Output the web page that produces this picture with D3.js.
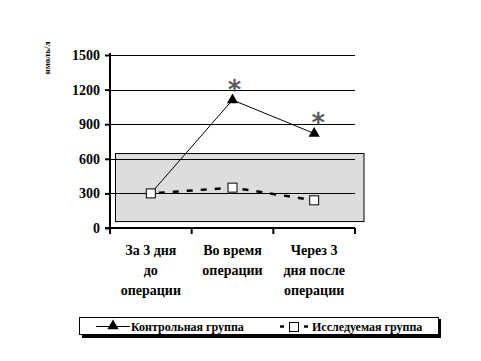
<!DOCTYPE html>
<html><head><meta charset="utf-8">
<script src="https://cdn.jsdelivr.net/npm/d3@7"></script>
<style>body{margin:0;background:#fff}svg{display:block}</style>
</head><body>
<script>
const categories = [["За 3 дня","до","операции"],["Во время","операции"],["Через 3","дня после","операции"]];
const control = [300, 1110, 820];
const study = [300, 350, 240];
const yTicks = [0, 300, 600, 900, 1200, 1500];
const normRange = [60, 650];
const seriesNames = ["Контрольная группа", "Исследуемая группа"];
const yLabel = "нмоль/л";
const signif = [false, true, true];

const FONT = "Liberation Serif, Times New Roman, serif";
const W = 481, H = 361;
const svg = d3.select("body").append("svg").attr("width", W).attr("height", H)
  .attr("font-family", FONT).attr("font-weight", "bold");

const x = d3.scaleBand().domain([0,1,2]).range([110, 355]);
const y = d3.scaleLinear().domain([0, 1500]).range([228, 55]);
const cx = i => x(i) + x.bandwidth()/2;

// normal range box
svg.append("rect").attr("x", 115.5).attr("y", y(normRange[1]) + 0.5)
  .attr("width", 364 - 115.5).attr("height", y(normRange[0]) - y(normRange[1]))
  .attr("fill", "#dddddd").attr("stroke", "#000").attr("stroke-width", 1);

// gridlines
svg.append("g").selectAll("line").data(yTicks.filter(d => d > 0)).join("line")
  .attr("x1", 110).attr("x2", 355).attr("y1", d => Math.round(y(d)) + 0.5).attr("y2", d => Math.round(y(d)) + 0.5)
  .attr("stroke", "#000").attr("stroke-width", 1);

// y axis
const ya = svg.append("g").attr("transform", "translate(110,0)")
  .call(d3.axisLeft(y).tickValues(yTicks).tickFormat(d3.format("d")).tickSize(5).tickPadding(5));
ya.attr("font-family", FONT).attr("font-size", 14).attr("font-weight", "bold");
ya.select(".domain").attr("stroke-width", 2).attr("d", `M0,${y(1500)-2}V${y(0)+3}`);
ya.selectAll(".tick line").attr("stroke-width", 2);
ya.selectAll("text").attr("fill", "#000");

// x axis
const xa = svg.append("g").attr("transform", `translate(0,${y(0)})`);
xa.append("line").attr("x1", 105).attr("x2", 355).attr("y1", 0).attr("y2", 0).attr("stroke", "#000").attr("stroke-width", 2);
xa.selectAll("line.t").data([110, ...[0,1,2].map(i => x(i) + x.bandwidth())]).join("line").attr("class","t")
  .attr("x1", d => d).attr("x2", d => d).attr("y1", 0).attr("y2", 6).attr("stroke", "#000").attr("stroke-width", 2);
categories.forEach((lines, i) => {
  const t = svg.append("text").attr("x", cx(i)).attr("text-anchor", "middle").attr("font-size", 14);
  lines.forEach((l, j) => t.append("tspan").attr("x", cx(i)).attr("y", 255 + j * 20).text(l));
});

// y label
svg.append("text").attr("transform", "translate(50,58) rotate(-90)").attr("text-anchor", "middle")
  .attr("font-size", 9).text(yLabel);

const line = d3.line().x((d, i) => cx(i)).y(d => y(d));

// study dashed line
svg.append("path").attr("d", line(study)).attr("fill", "none").attr("stroke", "#000")
  .attr("stroke-width", 2.5).attr("stroke-dasharray", "6,8").attr("stroke-dashoffset", -8);
// control line
svg.append("path").attr("d", line(control)).attr("fill", "none").attr("stroke", "#000").attr("stroke-width", 1);

const tri = d3.symbol().type(d3.symbolTriangle).size(55);
svg.append("g").selectAll("path").data(control.slice(1)).join("path")
  .attr("d", tri).attr("transform", (d, i) => `translate(${cx(i+1)},${y(d)})`).attr("fill", "#000");

svg.append("g").selectAll("rect").data(study).join("rect")
  .attr("x", (d, i) => cx(i) - 4.5).attr("y", d => y(d) - 4.5).attr("width", 9).attr("height", 9)
  .attr("fill", "#fff").attr("stroke", "#000").attr("stroke-width", 1);

// asterisks
svg.append("g").selectAll("text").data(control.map((d, i) => ({d, i})).filter(o => signif[o.i])).join("text")
  .attr("x", o => cx(o.i) + 2 + (o.i === 2 ? 2 : 0)).attr("y", o => y(o.d) - 1)
  .attr("text-anchor", "middle").attr("font-family", "DejaVu Sans, sans-serif").attr("font-weight", "normal")
  .attr("font-size", 26).attr("fill", "#555").attr("stroke", "#555").attr("stroke-width", 0.6).text("*");

// legend
const lg = svg.append("g").attr("font-size", 12);
lg.append("rect").attr("x", 82).attr("y", 319).attr("width", 359).attr("height", 19).attr("fill", "#000");
lg.append("rect").attr("x", 79.5).attr("y", 317.5).attr("width", 359).attr("height", 17).attr("fill", "#fff").attr("stroke", "#000");
lg.append("line").attr("x1", 96).attr("x2", 130).attr("y1", 326.5).attr("y2", 326.5).attr("stroke", "#000");
lg.append("path").attr("d", tri).attr("transform", "translate(113,326)").attr("fill", "#000");
lg.append("text").attr("x", 131).attr("y", 331).text(seriesNames[0]);
lg.append("line").attr("x1", 280).attr("x2", 284).attr("y1", 326.5).attr("y2", 326.5).attr("stroke", "#000").attr("stroke-width", 2.5);
lg.append("line").attr("x1", 304).attr("x2", 308).attr("y1", 326.5).attr("y2", 326.5).attr("stroke", "#000").attr("stroke-width", 2.5);
lg.append("rect").attr("x", 289.5).attr("y", 322.5).attr("width", 9).attr("height", 9).attr("fill", "#fff").attr("stroke", "#000");
lg.append("text").attr("x", 312).attr("y", 331).text(seriesNames[1]);
</script>
</body></html>
